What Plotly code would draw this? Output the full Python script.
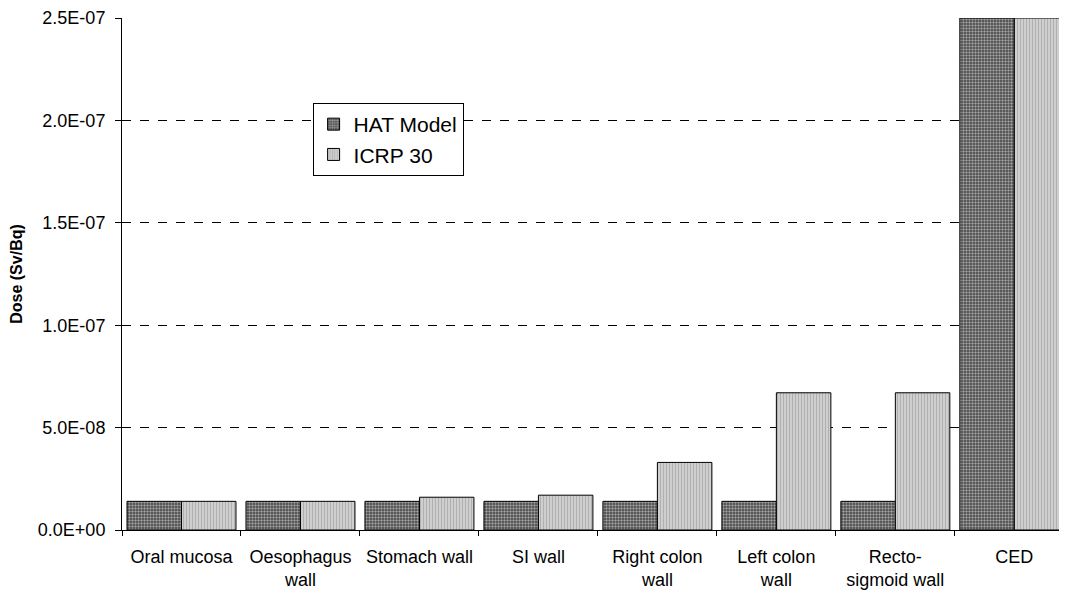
import plotly.graph_objects as go

categories = ["Oral mucosa", "Oesophagus<br>wall", "Stomach wall", "SI wall",
              "Right colon<br>wall", "Left colon<br>wall", "Recto-<br>sigmoid wall", "CED"]
hat_model = [1.4e-08, 1.4e-08, 1.4e-08, 1.4e-08, 1.4e-08, 1.4e-08, 1.4e-08, 2.5e-07]
icrp_30 = [1.4e-08, 1.4e-08, 1.6e-08, 1.7e-08, 3.3e-08, 6.7e-08, 6.7e-08, 2.5e-07]
y_tickvals = [0, 5e-08, 1e-07, 1.5e-07, 2e-07, 2.5e-07]
y_ticktext = ["0.0E+00", "5.0E-08", "1.0E-07", "1.5E-07", "2.0E-07", "2.5E-07"]

FONT = "Liberation Sans, Arial, sans-serif"

fig = go.Figure()
fig.add_trace(go.Bar(
    x=categories, y=hat_model, name="HAT Model",
    marker=dict(color="#555555", line=dict(color="black", width=1),
                pattern=dict(shape=".", fgcolor="white", bgcolor="#404040",
                             size=3, solidity=0.5)),
))
fig.add_trace(go.Bar(
    x=categories, y=icrp_30, name="ICRP 30",
    marker=dict(color="#c8c8c8", line=dict(color="black", width=1),
                pattern=dict(shape="|", fgcolor="#8a8a8a", bgcolor="#cfcfcf",
                             size=3, solidity=0.3)),
))

# page body adds an 8px offset, margins are set to line up with the reference
fig.update_layout(
    width=1067, height=595,
    margin=dict(l=114, r=0, t=10, b=73, pad=0),
    paper_bgcolor="white", plot_bgcolor="white",
    barmode="group", bargap=0.084, bargroupgap=0,
    font=dict(family=FONT, color="black", size=18),
    showlegend=True,
    legend=dict(x=0.2, y=0.834, xanchor="left", yanchor="top",
                bordercolor="black", borderwidth=1, bgcolor="white",
                font=dict(size=21, family=FONT), itemwidth=30,
                tracegroupgap=0),
)

fig.update_xaxes(
    range=[-0.5, 7.51], showline=True, linecolor="black", linewidth=1,
    ticks="outside", tickson="boundaries", ticklen=5, tickcolor="black",
    ticklabelstandoff=10,
    tickfont=dict(size=18, family=FONT), showgrid=False,
)
fig.update_yaxes(
    range=[0, 2.5e-07], tickvals=y_tickvals, ticktext=y_ticktext,
    showline=True, linecolor="black", linewidth=1,
    ticks="outside", ticklen=6, tickcolor="black", ticklabelstandoff=6,
    tickfont=dict(size=18, family=FONT),
    showgrid=True, gridcolor="black", griddash="dash", gridwidth=1,
    zeroline=False,
    title=dict(text="<b>Dose (Sv/Bq)</b>", font=dict(size=16, family=FONT), standoff=18),
)

fig.write_html("out.html")
